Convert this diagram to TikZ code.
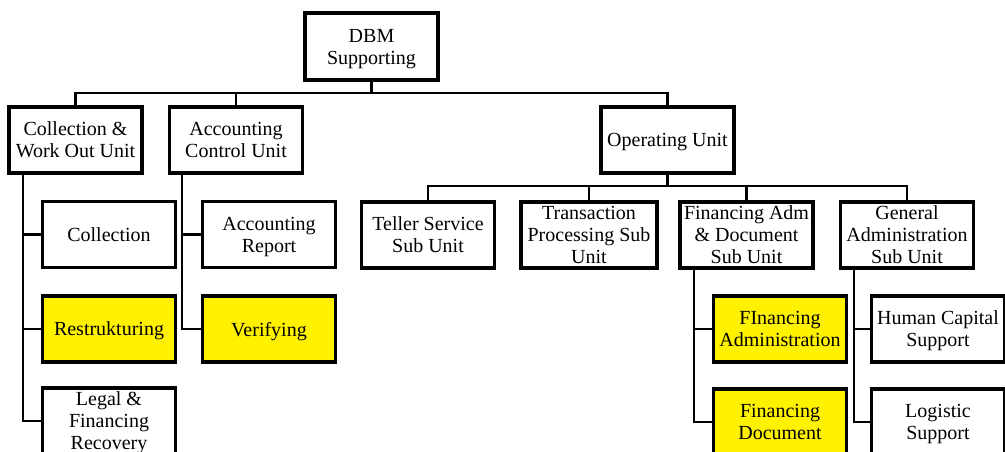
\documentclass[tikz,border=0pt]{standalone}
\usepackage{fontspec}
\setmainfont{Liberation Serif}
\newfontfamily\boxfont{Liberation Serif}
\newcommand{\nd}[1]{\raisebox{0pt}[\height][0pt]{#1}}
\begin{document}
\begin{tikzpicture}[x=0.75pt,y=-0.75pt,
  box/.style={draw, line width=2.4pt, minimum width=99.75pt, minimum height=49.5pt,
    align=center, inner sep=1pt, font=\boxfont\fontsize{15}{16.5}\selectfont},
  hl/.style={box, fill=yellow},
  conn/.style={line width=2.1pt},
  stub/.style={line width=1.8pt}]
\useasboundingbox (0,0) rectangle (1005,451);
\clip (0,0) rectangle (1005,451);
% level 0
\node[box, minimum height=50.25pt] (dbm) at (371.5,46.5) {DBM\\\nd{Supporting}};
% level 1
\node[box] (cwo) at (75.5,140) {Collection \&\\\nd{Work Out Unit}};
\node[box] (acu) at (236,140) {Accounting\\\nd{Control Unit}};
\node[box] (opu) at (667.5,140) {\nd{Operating Unit}};
% operating sub units
\node[box] (tel) at (428,235) {Teller Service\\\nd{Sub Unit}};
\node[box, minimum width=102pt] (tra) at (589,235) {Transaction\\Processing Sub\\\nd{Unit}};
\node[box] (fad) at (746.5,235) {Financing Adm\\\& Document\\\nd{Sub Unit}};
\node[box] (gad) at (907,235) {General\\Administration\\\nd{Sub Unit}};
% collection children
\node[box] (col) at (109,234.5) {\nd{Collection}};
\node[hl] (res) at (109,329) {\nd{Restrukturing}};
\node[box] (leg) at (109,421) {Legal \&\\Financing\\\nd{Recovery}};
% accounting children
\node[box] (arp) at (269,234.5) {Accounting\\\nd{Report}};
\node[hl] (ver) at (269,329) {\nd{Verifying}};
% financing adm children
\node[hl] (fia) at (780,329) {FInancing\\\nd{Administration}};
\node[hl] (fdo) at (780,422) {Financing\\\nd{Document}};
% general admin children
\node[box] (hcs) at (938,329) {Human Capital\\\nd{Support}};
\node[box] (log) at (938,422) {Logistic\\\nd{Support}};
% connectors level 0 -> 1
\coordinate (b1) at (371.5,93);
\draw[conn] (dbm.south) -- (b1);
\draw[conn] (cwo.north) |- (b1) -| (opu.north);
\draw[conn] (acu.north) |- (b1);
% operating unit bus
\coordinate (b2) at (667.5,186);
\draw[conn] (opu.south) -- (b2);
\draw[conn] (tel.north) |- (b2) -| (gad.north);
\draw[conn] (tra.north) |- (b2);
\draw[conn] (fad.north) |- (b2);
% collection vertical
\coordinate (cv) at (23,173);
\draw[conn] (cv) |- (leg.west);
\draw[stub] (col.west) -- (col.west -| cv);
\draw[stub] (res.west) -- (res.west -| cv);
% accounting vertical
\coordinate (av) at (182,173);
\draw[conn] (av) |- (ver.west);
\draw[stub] (arp.west) -- (arp.west -| av);
% financing adm vertical
\coordinate (fv) at (694,268);
\draw[conn] (fv) |- (fdo.west);
\draw[stub] (fia.west) -- (fia.west -| fv);
% general admin vertical
\coordinate (gv) at (854,268);
\draw[conn] (gv) |- (log.west);
\draw[stub] (hcs.west) -- (hcs.west -| gv);
\end{tikzpicture}
\end{document}
